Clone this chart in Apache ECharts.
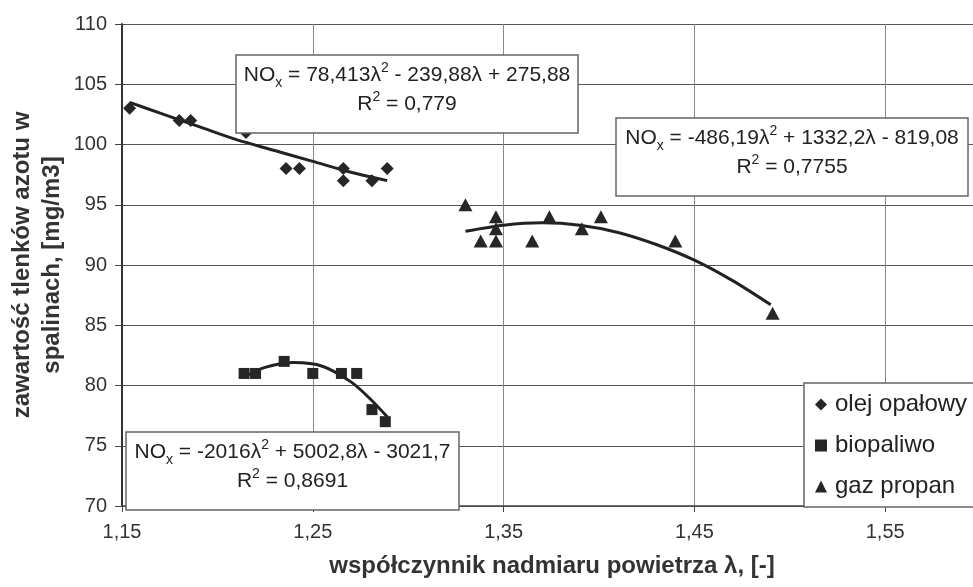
<!DOCTYPE html>
<html>
<head>
<meta charset="utf-8">
<script src="https://cdn.jsdelivr.net/npm/echarts@6/dist/echarts.min.js"></script>
<style>
  html, body { margin: 0; padding: 0; background: #fff; }
  #chart { width: 973px; height: 587px; }
</style>
</head>
<body>
<div id="chart"></div>
<script>
// punkty pomiarowe
const oilX = [1.154, 1.180, 1.186, 1.215, 1.236, 1.243, 1.266, 1.266, 1.281, 1.289];
const oilY = [103, 102, 102, 101, 98, 98, 98, 97, 97, 98];
const bioX = [1.214, 1.220, 1.235, 1.250, 1.265, 1.273, 1.281, 1.288];
const bioY = [81, 81, 82, 81, 81, 81, 78, 77];
const propX = [1.330, 1.338, 1.346, 1.346, 1.346, 1.365, 1.374, 1.391, 1.401, 1.440, 1.491];
const propY = [95, 92, 92, 93, 94, 92, 94, 93, 94, 92, 86];

// linie trendu
const oilTrendX = [1.154, 1.170, 1.190, 1.210, 1.230, 1.250, 1.270, 1.289];
const oilTrendY = [103.5, 102.6, 101.5, 100.4, 99.5, 98.6, 97.7, 97.0];
const bioTrendX = [1.214, 1.225, 1.240, 1.255, 1.270, 1.280, 1.289];
const bioTrendY = [80.7, 81.5, 81.9, 81.6, 80.3, 78.9, 77.4];
const propTrendX = [1.330, 1.350, 1.370, 1.390, 1.410, 1.430, 1.450, 1.470, 1.490];
const propTrendY = [92.8, 93.3, 93.5, 93.3, 92.7, 91.7, 90.4, 88.7, 86.7];

const seriesNames = ["olej opałowy", "biopaliwo", "gaz propan"];
const xTicks = { min: 1.15, max: 1.65, step: 0.1 };
const yTicks = { min: 70, max: 110, step: 5 };

const FONT = "Liberation Sans, Arial, sans-serif";
const pairs = (xs, ys) => xs.map((x, i) => [x, ys[i]]);

const chart = echarts.init(document.getElementById("chart"));

// ramka z równaniem trendu
function eqBox(x, y, w, h, text) {
  return {
    type: "group", x: x, y: y,
    children: [
      { type: "rect", z: 100, shape: { x: 0, y: 0, width: w, height: h },
        style: { fill: "#fff", stroke: "#666", lineWidth: 1.5 } },
      { type: "text", z: 101, x: w / 2, y: 6,
        style: {
          text: text, align: "center", verticalAlign: "top",
          fontFamily: FONT, fontSize: 21, fill: "#222",
          rich: {
            n: { fontFamily: FONT, fontSize: 21, lineHeight: 29, fill: "#222" },
            s: { fontFamily: FONT, fontSize: 14, lineHeight: 14, verticalAlign: "bottom", fill: "#222" },
            p: { fontFamily: FONT, fontSize: 14, lineHeight: 21, verticalAlign: "top", fill: "#222" }
          }
        } }
    ]
  };
}

const trendStyle = { color: "#222", width: 3 };
const markStyle = { color: "#262626", opacity: 1 };

const option = {
  animation: false,
  backgroundColor: "#fff",
  // wykres jest ucięty z prawej strony (oś do 1,65 poza obrazkiem)
  grid: { left: 122, width: 954, top: 24, bottom: 81, outerBoundsMode: "none", containLabel: false },
  xAxis: {
    type: "value", min: xTicks.min, max: xTicks.max, interval: xTicks.step,
    axisLine: { show: true, onZero: false, lineStyle: { color: "#444", width: 1.5 } },
    axisTick: { show: true, length: 6, lineStyle: { color: "#444" } },
    splitLine: { show: true, lineStyle: { color: "#888", width: 1 } },
    axisLabel: {
      margin: 16, fontFamily: FONT, fontSize: 20, color: "#333", showMaxLabel: false,
      formatter: v => v.toFixed(2).replace(".", ",")
    }
  },
  yAxis: {
    type: "value", min: yTicks.min, max: yTicks.max, interval: yTicks.step,
    axisLine: { show: true, lineStyle: { color: "#333", width: 2 } },
    axisTick: { show: true, length: 7, lineStyle: { color: "#444" } },
    splitLine: { show: true, lineStyle: { color: "#555", width: 1 } },
    axisLabel: { margin: 15, fontFamily: FONT, fontSize: 20, color: "#333" }
  },
  legend: {
    orient: "vertical", left: 804, top: 383,
    data: [
      { name: seriesNames[0], icon: "diamond" },
      { name: seriesNames[1], icon: "rect" },
      { name: seriesNames[2], icon: "triangle" }
    ],
    itemWidth: 12, itemHeight: 12, itemGap: 16,
    padding: [9, 40, 8, 11],
    backgroundColor: "#fff", borderColor: "#666", borderWidth: 1.5,
    textStyle: { fontFamily: FONT, fontSize: 24, lineHeight: 25, color: "#222", padding: [0, 0, 0, 3] },
    itemStyle: markStyle,
    z: 50
  },
  series: [
    { name: "trend1", type: "line", data: pairs(oilTrendX, oilTrendY), smooth: 0.3,
      showSymbol: false, lineStyle: trendStyle, z: 3, silent: true },
    { name: "trend2", type: "line", data: pairs(bioTrendX, bioTrendY), smooth: 0.3,
      showSymbol: false, lineStyle: trendStyle, z: 3, silent: true },
    { name: "trend3", type: "line", data: pairs(propTrendX, propTrendY), smooth: 0.3,
      showSymbol: false, lineStyle: trendStyle, z: 3, silent: true },
    { name: seriesNames[0], type: "scatter", data: pairs(oilX, oilY),
      symbol: "diamond", symbolSize: 13, itemStyle: markStyle, z: 4 },
    { name: seriesNames[1], type: "scatter", data: pairs(bioX, bioY),
      symbol: "rect", symbolSize: 11, itemStyle: markStyle, z: 4 },
    { name: seriesNames[2], type: "scatter", data: pairs(propX, propY),
      symbol: "triangle", symbolSize: [14, 13], itemStyle: markStyle, z: 4 }
  ],
  graphic: [
    eqBox(236, 55, 342, 78, "{n|NO}{s|x}{n| = 78,413λ}{p|2}{n| - 239,88λ + 275,88}\n{n|R}{p|2}{n| = 0,779}"),
    eqBox(616, 118, 352, 78, "{n|NO}{s|x}{n| = -486,19λ}{p|2}{n| + 1332,2λ - 819,08}\n{n|R}{p|2}{n| = 0,7755}"),
    eqBox(126, 432, 333, 78, "{n|NO}{s|x}{n| = -2016λ}{p|2}{n| + 5002,8λ - 3021,7}\n{n|R}{p|2}{n| = 0,8691}"),
    { type: "text", x: 552, y: 566, z: 100,
      style: { text: "współczynnik nadmiaru powietrza λ, [-]", align: "center", verticalAlign: "middle",
        fontFamily: FONT, fontSize: 24, fontWeight: "bold", fill: "#333" } },
    { type: "text", x: 37, y: 265, rotation: Math.PI / 2, z: 100,
      style: { text: "zawartość tlenków azotu w\nspalinach, [mg/m3]", align: "center", verticalAlign: "middle",
        fontFamily: FONT, fontSize: 24, fontWeight: "bold", lineHeight: 30, fill: "#333" } }
  ]
};

chart.setOption(option);
window.addEventListener("resize", () => chart.resize());
</script>
</body>
</html>
